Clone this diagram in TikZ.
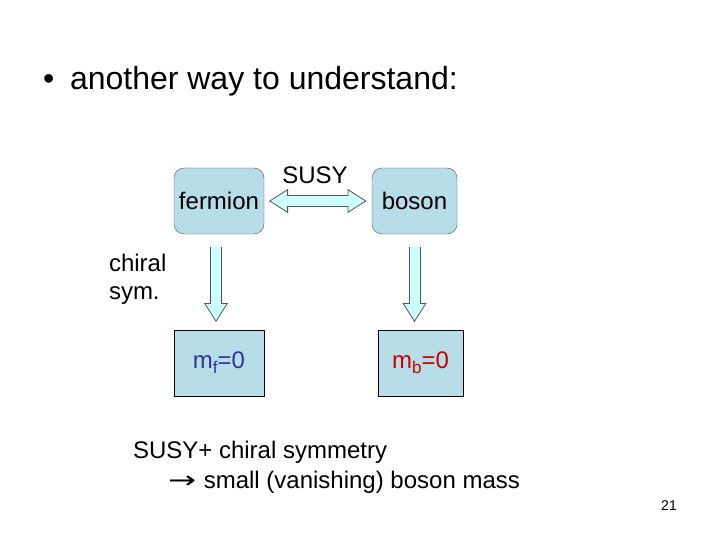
\documentclass[tikz,border=0pt]{standalone}
\usepackage{fontspec}
\setmainfont{Liberation Sans}
\newfontfamily\symfont{DejaVu Sans}
\usepackage{xcolor}
\usepackage{graphicx}
\usepackage{tikz}
\usetikzlibrary{arrows.meta, positioning, calc}
\definecolor{boxblue}{HTML}{B7DDE8}
\definecolor{arrowfill}{HTML}{CCFFFF}
\definecolor{arrowline}{HTML}{555555}
\definecolor{massblue}{HTML}{333399}
\definecolor{massred}{HTML}{CC0000}
\newcommand{\lowsub}[1]{\raisebox{-5pt}{\fontsize{17}{17}\selectfont #1}}

\begin{document}
\begin{tikzpicture}[
    x=1pt, y=-1pt,
    every node/.style={inner sep=0pt, outer sep=0pt},
    txt/.style={font=\fontsize{#1}{#1}\selectfont},
    txt/.default=24,
    statebox/.style={rectangle, rounded corners=10pt, draw=arrowline, fill=boxblue,
                     minimum height=66pt, txt},
    massbox/.style={rectangle, draw=black, fill=boxblue, minimum width=90pt,
                    minimum height=66pt, txt},
    fattip/.tip={Triangle[length=19pt, width=24pt, fill=arrowfill, color=arrowline,
                 line width=0.8pt]},
    fatarrow/.style 2 args={
        preaction={draw=arrowline, arrows=-, line width=12pt,
                   shorten <=#1, shorten >=#2},
        draw=arrowfill, line width=10pt},
    fatcover/.style 2 args={
        postaction={draw=arrowfill, arrows=-, line width=10pt,
                    shorten <=#1, shorten >=#2}}
]
\useasboundingbox (0,0) rectangle (720,540);

% headline
\node[txt=32, anchor=base west] (bullet) at (43,90) {•};
\node[txt=32, anchor=base west] (title) at (70,90) {another way to understand:};

% SUSY partners
\node[statebox, minimum width=90pt] (fermion) at (219,201) {fermion};
\node[statebox, minimum width=85pt] (boson) at (414.5,201) {boson};
\node[txt, anchor=base] (susy) at (315,184) {SUSY};

% masses
\node[massbox] (mf) at (219,363) {\textcolor{massblue}{m\lowsub{f}=0}};
\node[massbox, minimum width=85pt] (mb) at (420.5,363) {\textcolor{massred}{m\lowsub{b}=0}};

\node[txt, anchor=west, align=left] (chiral) at (109,279) {chiral\\[4pt]sym.};

% fat arrows
\draw[fatarrow={23pt}{23pt}, fatcover={22pt}{22pt}, shorten <=5pt, shorten >=5.5pt,
      fattip-fattip] (fermion) -- (boson);
\draw[fatarrow={13pt}{26pt}, fatcover={13pt}{25pt}, shorten <=13pt, shorten >=8pt,
      -fattip] ($(fermion.south)+(-3,0)$) coordinate (fs) -- (fs |- mf.north);
\draw[fatarrow={13pt}{26pt}, fatcover={13pt}{25pt}, shorten <=13pt, shorten >=8pt,
      -fattip] (boson.south) -- (boson.south |- mb.north);

% conclusion
\node[txt, anchor=base west, align=left] (concl) at (133,488)
    {SUSY+ chiral symmetry\\[6pt]\hspace*{35pt}\scalebox{1.4}[1]{\symfont →}\hspace{1pt} small (vanishing) boson mass};

\node[txt=14, anchor=base] (page) at (669,510) {21};
\end{tikzpicture}
\end{document}
